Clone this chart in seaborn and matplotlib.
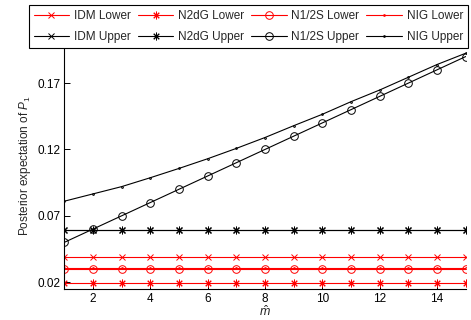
import numpy as np
import pandas as pd
import matplotlib
matplotlib.use('Agg')
import matplotlib.pyplot as plt
import seaborn as sns

# x axis values
m_hat = list(range(1, 16))

# lower bounds (red)
idm_lower = [0.0389] * 15
n2dg_lower = [0.0197] * 15
n12s_lower = [0.0300] * 15
nig_lower = [0.0303] * 15

# upper bounds (black)
idm_upper = [0.0590] * 15
n2dg_upper = [0.0595] * 15
n12s_upper = [0.05, 0.06, 0.07, 0.08, 0.09, 0.10, 0.11, 0.12,
              0.13, 0.14, 0.15, 0.16, 0.17, 0.18, 0.19]
nig_upper = [0.081, 0.0865, 0.092, 0.0987, 0.1057, 0.113, 0.1208, 0.129,
             0.1379, 0.1465, 0.156, 0.1648, 0.1744, 0.184, 0.1925]

ytick_vals = [0.02, 0.07, 0.12, 0.17]
xtick_vals = [2, 4, 6, 8, 10, 12, 14]

sns.set_style('white')
plt.rcParams['font.family'] = ['Liberation Sans', 'DejaVu Sans']
plt.rcParams['mathtext.fontset'] = 'custom'
plt.rcParams['mathtext.rm'] = 'Liberation Sans'
plt.rcParams['mathtext.it'] = 'Liberation Sans:italic'

fig = plt.figure(figsize=(4.71, 3.2), dpi=100)
ax = fig.add_axes([0.1366, 0.0984, 0.8521, 0.7663])

asterisk = (8, 2, 0)
series = [
    ('IDM Lower', idm_lower, 'red', 'x', 4),
    ('IDM Upper', idm_upper, 'black', 'x', 4),
    ('N2dG Lower', n2dg_lower, 'red', asterisk, 5.5),
    ('N2dG Upper', n2dg_upper, 'black', asterisk, 5.5),
    ('N1/2S Lower', n12s_lower, 'red', 'o', 5.5),
    ('N1/2S Upper', n12s_upper, 'black', 'o', 5.5),
    ('NIG Lower', nig_lower, 'red', '.', 2.5),
    ('NIG Upper', nig_upper, 'black', '.', 2.5),
]

for label, vals, col, mk, ms in series:
    sns.lineplot(x=m_hat, y=vals, ax=ax, color=col, marker=mk, markersize=ms,
                 markerfacecolor='none', markeredgecolor=col, markeredgewidth=0.7,
                 linewidth=0.8, label=label)

ax.set_xlim(1, 15)
ax.set_ylim(0.0152, 0.2)
ax.set_xticks(xtick_vals)
ax.set_yticks(ytick_vals)
ax.set_yticklabels([f'{v:.2f}' for v in ytick_vals])
ax.tick_params(direction='in', length=4, width=0.7, labelsize=8.5, colors='black', pad=3)
ax.tick_params(axis='both', which='both', left=True, bottom=True)
sns.despine(ax=ax)
for s in ['left', 'bottom']:
    ax.spines[s].set_color('black')
    ax.spines[s].set_linewidth(0.8)

ax.set_xlabel(r'$\hat{m}$', fontsize=9, labelpad=0)
ax.set_ylabel(r'Posterior expectation of $P_1$', fontsize=8.5, labelpad=3)

ax.get_legend().remove()
handles, labels = ax.get_legend_handles_labels()
leg = fig.legend(handles, labels, ncol=4, loc='upper left',
                 bbox_to_anchor=(29 / 471, 1 - 5 / 320), borderaxespad=0,
                 fontsize=8.5, frameon=True, fancybox=False, framealpha=1,
                 edgecolor='black', handlelength=3.0, handletextpad=0.4,
                 columnspacing=0.6, labelspacing=0.8, borderpad=0.4)
leg.get_frame().set_linewidth(0.8)

fig.savefig('out.png', dpi=100)
